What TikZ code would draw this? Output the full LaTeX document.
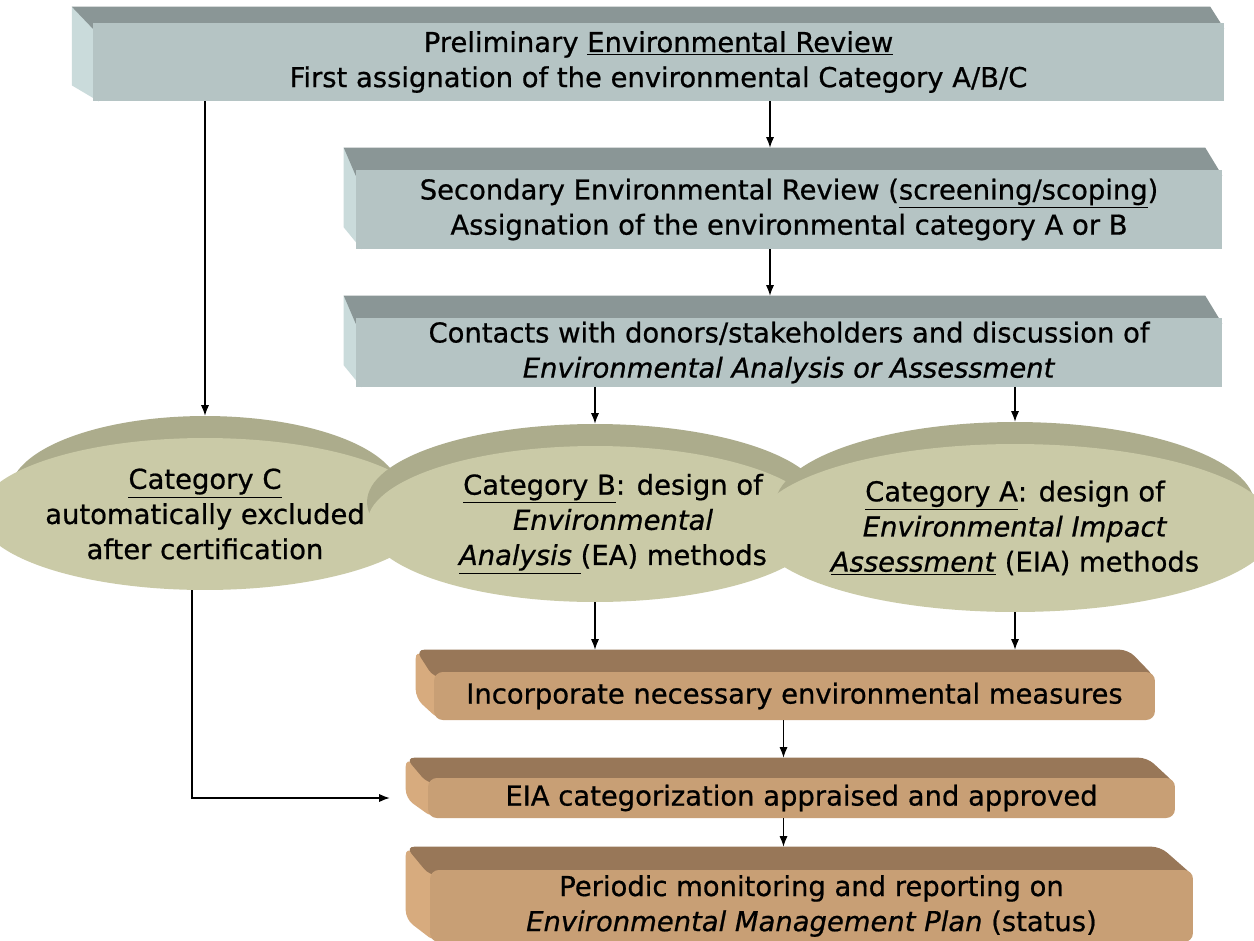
\documentclass[tikz,border=0pt]{standalone}
\usepackage{fontspec}
\setmainfont{DejaVu Sans}[FakeBold=0.7]
\usetikzlibrary{shapes.geometric,calc,backgrounds,arrows.meta}
\definecolor{grfront}{RGB}{181,196,196}
\definecolor{grtop}{RGB}{138,150,150}
\definecolor{grside}{RGB}{202,219,219}
\definecolor{brfront}{RGB}{200,159,117}
\definecolor{brtop}{RGB}{152,119,88}
\definecolor{brside}{RGB}{215,171,126}
\definecolor{dfront}{RGB}{202,202,167}
\definecolor{drim}{RGB}{172,172,140}

\begin{document}
\begin{tikzpicture}[x=0.02cm,y=-0.02cm]
\tikzset{base/.style={inner sep=0pt,align=center,font=\fontsize{15.6}{20}\selectfont},
box/.style={base,fill=grfront},slab/.style={base,fill=brfront,rounded corners=5pt},
disc/.style={base,ellipse,fill=dfront},rim/.style={base,ellipse,fill=drim},
every path/.style={>={Latex[length=6pt,width=4.6pt]}},conn/.style={->,line width=0.6pt}}
\useasboundingbox (0,0) rectangle (1254,940);
% review boxes
\node[box,minimum width=22.62cm,minimum height=1.56cm] at (658.5,62) (PRE)
  {Preliminary \underline{Environmental Review}\\First assignation of the environmental Category A/B/C};
\node[box,minimum width=17.32cm,minimum height=1.58cm] at (789,209.5) (SEC)
  {Secondary Environmental Review (\underline{screening/scoping})\\Assignation of the environmental category A or B};
\node[box,minimum width=17.32cm,minimum height=1.38cm] at (789,352.5) (CON)
  {Contacts with donors/stakeholders and discussion of\\\textit{Environmental Analysis or Assessment}};
% categories
\node[rim,minimum width=7.8cm,minimum height=3.04cm] at (205,492) (CATCr) {};
\node[disc,minimum width=7.8cm,minimum height=3.04cm] at (205,514) (CATC)
  {\underline{Category C}\\automatically excluded\\after certification};
\node[rim,minimum width=9.12cm,minimum height=3.12cm] at (595,502) (CATBr) {};
\node[disc,minimum width=9.12cm,minimum height=3.12cm,
  label={[base,xshift=0.36cm]center:{\underline{Category B}: design of\\\textit{Environmental}\\\underline{\textit{Analysis}\ }(EA) methods}}]
  at (595,524) (CATB) {};
\node[rim,minimum width=9.6cm,minimum height=3.36cm] at (1015,506) (CATAr) {};
\node[disc,minimum width=9.6cm,minimum height=3.36cm] at (1015,528) (CATA)
  {\underline{Category A}: design of\\\textit{Environmental Impact}\\\underline{\textit{Assessment}} (EIA) methods};
% follow-up
\node[slab,minimum width=14.42cm,minimum height=0.96cm] at (794.5,696) (INC)
  {Incorporate necessary environmental measures};
\node[slab,minimum width=14.94cm,minimum height=0.8cm] at (801.5,798) (APP)
  {EIA categorization appraised and approved};
\node[slab,minimum width=15.26cm,minimum height=1.44cm] at (811.5,906) (MON)
  {Periodic monitoring and reporting on\\\textit{Environmental Management Plan} (status)};
% 3d faces
\begin{pgfonlayer}{background}
\fill[white] (0,0) rectangle (1254,940);
\foreach \n/\l/\r/\h/\t/\s/\rc in {PRE/21/14/16/grtop/grside/0pt,SEC/12/17/22/grtop/grside/0pt,
  CON/12/17/22/grtop/grside/0pt,INC/18/27/22/brtop/brside/5pt,APP/22/28/20/brtop/brside/5pt,
  MON/24/33/23/brtop/brside/5pt}{
  \fill[fill=\s,rounded corners=\rc] ($(\n.north west)+(6,0)$) -- ++(-\l-6,-\h)
    -- ($(\n.south west)+(-\l,-\h)$) -- ($(\n.south west)+(6,0)$) -- cycle;
  \fill[fill=\t,rounded corners=\rc] ($(\n.north west)+(0,6)$) -- ++(-\l,-\h-6)
    -- ($(\n.north east)+(-\r,-\h)$) -- ($(\n.north east)+(0,6)$) -- cycle;
}
\end{pgfonlayer}
% arrows
\coordinate (a1) at ($(SEC.north)+(-19,-22)$);
\coordinate (a2) at ($(CON.north)+(-19,-22)$);
\coordinate (a4) at ($(INC.north)+(0,-22)$);
\coordinate (a5) at ($(APP.north)+(-18,-20)$);
\coordinate (a6) at ($(MON.north)+(-28,-23)$);
\coordinate (a7) at ($(APP.west)+(-38,0)$);
\coordinate (cb) at ($(CATC.south)+(-13,0)$);
\draw[conn] (PRE.south -| a1) -- (a1);
\draw[conn] (SEC.south -| a2) -- (a2);
\draw[conn] (PRE.south -| CATCr.north) -- (CATCr.north);
\draw[conn] (CON.south -| CATBr.north) -- (CATBr.north);
\draw[conn] (CON.south -| CATAr.north) -- (CATAr.north);
\draw[conn] (CATB.south) -- (CATB.south |- a4);
\draw[conn] (CATA.south) -- (CATA.south |- a4);
\draw[conn] (INC.south -| a5) -- (a5);
\draw[conn] (APP.south -| a6) -- (a6);
\draw[conn] (cb) |- (a7);
\end{tikzpicture}
\end{document}
